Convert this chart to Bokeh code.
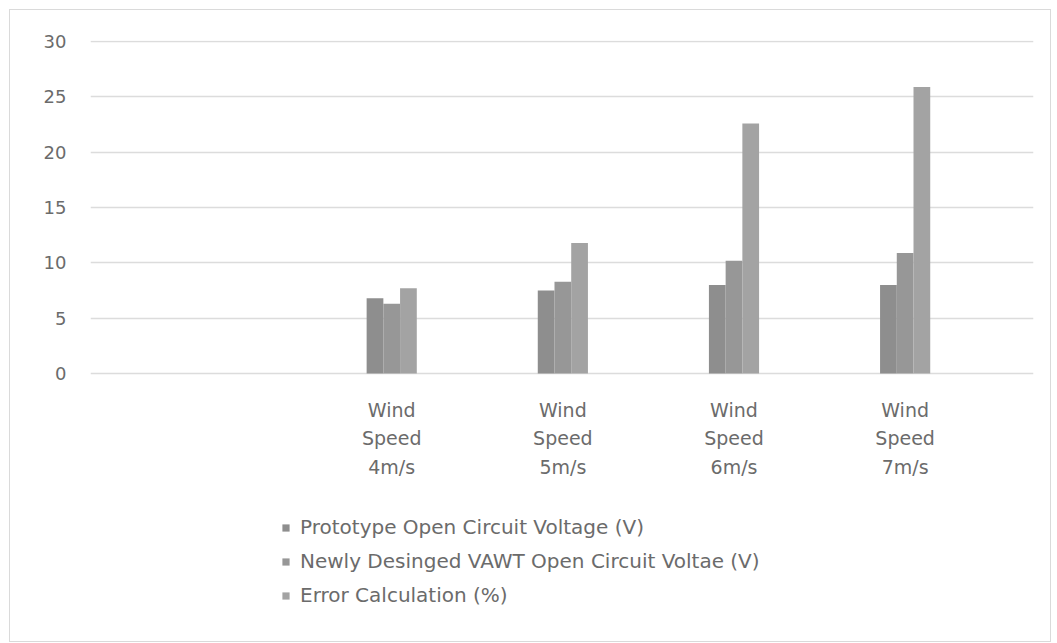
from bokeh.plotting import figure
from bokeh.models import (ColumnDataSource, Range1d, LinearAxis, FixedTicker,
                          Legend, LegendItem, Grid)
from bokeh.core.properties import value
from bokeh.transform import dodge
from bokeh.embed import file_html
from bokeh.resources import INLINE

categories = ["Wind\nSpeed\n4m/s", "Wind\nSpeed\n5m/s", "Wind\nSpeed\n6m/s", "Wind\nSpeed\n7m/s"]
prototype_voc = [6.8, 7.5, 8.0, 8.0]
new_vawt_voc = [6.3, 8.3, 10.2, 10.9]
error_pct = [7.7, 11.8, 22.6, 25.9]
series_names = ["Prototype Open Circuit Voltage (V)",
                "Newly Desinged VAWT Open Circuit Voltae (V)",
                "Error Calculation (%)"]
series_colors = ["#8e8e8e", "#979797", "#a3a3a3"]
y_ticks = [0, 5, 10, 15, 20, 25, 30]

# layout (pixels)
PLOT_H = 333          # height of the 0..30 value area
Y_TOP = 30.1
PX_PER_UNIT = PLOT_H / Y_TOP
BELOW_PX = 268        # room under the zero line for category labels and legend
LABEL_GAP_PX = 25     # gap between zero line and category label

pos = list(range(len(categories)))
label_y = [-LABEL_GAP_PX / PX_PER_UNIT] * len(pos)
src = ColumnDataSource(dict(x=pos, a=prototype_voc, b=new_vawt_voc, c=error_pct,
                            lab=categories, ly=label_y))

FONT = "DejaVu Sans"
TXT = "#6b6b6b"

p = figure(frame_width=943, frame_height=PLOT_H + BELOW_PX, output_backend="svg",
           toolbar_location=None,
           x_range=Range1d(-1.76, 3.75), y_range=Range1d(-BELOW_PX / PX_PER_UNIT, Y_TOP),
           x_axis_type=None, y_axis_type=None,
           min_border_left=80, min_border_right=17, min_border_top=30, min_border_bottom=0)
p.outline_line_color = None
p.background_fill_color = "white"
p.border_fill_color = "white"
p.styles = {"border": "1px solid #dadada", "margin-left": "9px", "margin-top": "9px"}

p.add_layout(Grid(dimension=1, ticker=FixedTicker(ticks=y_ticks),
                  grid_line_color="#dcdcdc", grid_line_width=1.5))

bw = 0.0977
r1 = p.vbar(x=dodge("x", -bw, range=p.x_range), top="a", width=bw, source=src,
            fill_color=series_colors[0], line_color=None)
r2 = p.vbar(x=dodge("x", 0, range=p.x_range), top="b", width=bw, source=src,
            fill_color=series_colors[1], line_color=None)
r3 = p.vbar(x=dodge("x", bw, range=p.x_range), top="c", width=bw, source=src,
            fill_color=series_colors[2], line_color=None)

# category labels
p.text(x="x", y="ly", text="lab", source=src, text_font=value(FONT),
       text_font_size="19px", text_color=TXT, text_align="center",
       text_baseline="top", text_line_height=1.3)

yaxis = LinearAxis(ticker=FixedTicker(ticks=y_ticks))
yaxis.axis_line_color = None
yaxis.major_tick_line_color = None
yaxis.minor_tick_line_color = None
yaxis.major_tick_out = 0
yaxis.major_label_standoff = 24
yaxis.major_label_text_font = FONT
yaxis.major_label_text_font_size = "18px"
yaxis.major_label_text_color = TXT
p.add_layout(yaxis, "left")

legend = Legend(items=[LegendItem(label=series_names[0], renderers=[r1]),
                       LegendItem(label=series_names[1], renderers=[r2]),
                       LegendItem(label=series_names[2], renderers=[r3])],
                orientation="vertical", location=(191, 34))
legend.label_text_font = FONT
legend.label_text_font_size = "20px"
legend.label_text_color = TXT
legend.glyph_width = 9
legend.glyph_height = 9
legend.label_height = 20
legend.spacing = 10
legend.label_standoff = 10
legend.padding = 5
legend.margin = 0
legend.border_line_color = None
legend.background_fill_alpha = 0
p.add_layout(legend, "center")

open("out.html", "w").write(file_html(p, INLINE))
